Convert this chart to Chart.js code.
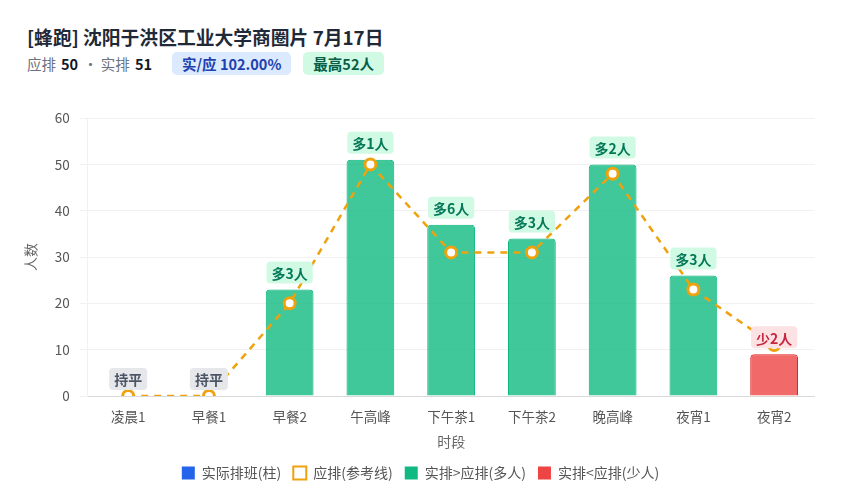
<!DOCTYPE html>
<html lang="zh">
<head>
<meta charset="utf-8">
<title>蜂跑排班</title>
<script src="https://cdn.jsdelivr.net/npm/chart.js"></script>
<style>
  html, body { margin: 0; padding: 0; background: #fff; }
  body { width: 849px; height: 500px; position: relative; overflow: hidden;
         font-family: "Noto Sans CJK SC", "Noto Sans", sans-serif; }
  #title { position: absolute; left: 27px; top: 23px; font-size: 18.8px; font-weight: 700; color: #1f2937; }
  #sub { position: absolute; left: 27px; top: 52px; font-size: 14.5px; color: #6b7280; display: flex; align-items: center; }
  #sub b { color: #111827; margin: 0 5px; }
  .badge { display: inline-block; border-radius: 5px; padding: 1px 10px; font-weight: 700; margin-left: 12px; line-height: 21px; }
  .blue { background: #dbeafe; color: #1e40af; margin-left: 15px; }
  .green { background: #d1fae5; color: #065f46; }
  #wrap { position: absolute; left: 18px; top: 100px; width: 805px; height: 390px; }
</style>
</head>
<body>
<div id="title">[蜂跑] 沈阳于洪区工业大学商圈片 7月17日</div>
<div id="sub">应排<b>50</b>· 实排<b>51</b><span class="badge blue">实/应 102.00%</span><span class="badge green">最高52人</span></div>
<div id="wrap"><canvas id="c"></canvas></div>
<script>
const periods = ["凌晨1", "早餐1", "早餐2", "午高峰", "下午茶1", "下午茶2", "晚高峰", "夜宵1", "夜宵2"];
const actual = [0, 0, 23, 51, 37, 34, 50, 26, 9];
const planned = [0, 0, 20, 50, 31, 31, 48, 23, 11];
const yTicks = [0, 10, 20, 30, 40, 50, 60];

const GREEN = "rgba(16,185,129,0.8)";
const RED = "rgba(239,68,68,0.8)";
const ORANGE = "#eea20e";
const FONT = "'Noto Sans CJK SC', 'Noto Sans', sans-serif";

function diffLabel(i) {
    const d = actual[i] - planned[i];
    if (d > 0) return { text: "多" + d + "人", bg: "#d1fae5", fg: "#047857" };
    if (d < 0) return { text: "少" + (-d) + "人", bg: "#fde2e4", fg: "#c8253f" };
    return { text: "持平", bg: "#e5e7eb", fg: "#4b5563" };
}

// badge above each bar
const diffPlugin = {
    id: "diffLabels",
    afterDatasetsDraw(chart) {
        const ctx = chart.ctx;
        const y = chart.scales.y;
        const barMeta = chart.getDatasetMeta(0);
        ctx.save();
        ctx.font = "bold 14px " + FONT;
        ctx.textAlign = "center";
        ctx.textBaseline = "middle";
        periods.forEach((p, i) => {
            const lab = diffLabel(i);
            const x = barMeta.data[i].x;
            const cy = y.getPixelForValue(actual[i]) - 17;
            const w = ctx.measureText(lab.text).width + 10;
            const h = 22;
            ctx.fillStyle = lab.bg;
            ctx.beginPath();
            ctx.roundRect(x - w / 2, cy - h / 2, w, h, 4);
            ctx.fill();
            ctx.fillStyle = lab.fg;
            ctx.fillText(lab.text, x, cy + 1);
        });
        ctx.restore();
    }
};

new Chart(document.getElementById("c"), {
    data: {
        labels: periods,
        datasets: [
            {
                type: "bar",
                label: "实际排班(柱)",
                data: actual,
                backgroundColor: actual.map((v, i) => v < planned[i] ? RED : GREEN),
                borderColor: actual.map((v, i) => v < planned[i] ? "#dc2626" : "#10b981"),
                borderWidth: 1,
                borderRadius: 4,
                borderSkipped: "bottom",
                categoryPercentage: 0.8,
                barPercentage: 0.74,
                order: 2
            },
            {
                type: "line",
                label: "应排(参考线)",
                data: planned,
                borderColor: ORANGE,
                borderWidth: 2.5,
                borderDash: [7, 6],
                backgroundColor: "#fff",
                pointBackgroundColor: "#fff",
                pointBorderColor: ORANGE,
                pointBorderWidth: 3,
                pointRadius: 5.5,
                tension: 0,
                fill: false,
                order: 1
            }
        ]
    },
    options: {
        responsive: true,
        maintainAspectRatio: false,
        animation: false,
        layout: { padding: { top: 8, right: 0, bottom: 0, left: 0 } },
        scales: {
            x: {
                grid: { display: false },
                border: { color: "#d9d9d9" },
                ticks: { color: "#555", font: { size: 13.5, family: FONT }, padding: 5 },
                title: { display: true, text: "时段", color: "#666", font: { size: 14, family: FONT }, padding: { top: 3 } }
            },
            y: {
                min: 0,
                max: 60,
                afterBuildTicks(axis) { axis.ticks = yTicks.map(v => ({ value: v })); },
                grid: { color: "#f1f1f1" },
                border: { color: "#f1f1f1" },
                ticks: { color: "#555", font: { size: 13.5, family: FONT }, padding: 10 },
                title: { display: true, text: "人数", color: "#666", font: { size: 14, family: FONT }, padding: { bottom: 6 } }
            }
        },
        plugins: {
            tooltip: { enabled: false },
            legend: {
                position: "bottom",
                labels: {
                    color: "#555",
                    font: { size: 14, family: FONT },
                    boxWidth: 13,
                    boxHeight: 13,
                    useBorderRadius: true,
                    borderRadius: 2,
                    padding: 12,
                    generateLabels() {
                        return [
                            { text: "实际排班(柱)", fillStyle: "#2563eb", strokeStyle: "#2563eb", lineWidth: 0, fontColor: "#555" },
                            { text: "应排(参考线)", fillStyle: "#fff", strokeStyle: ORANGE, lineWidth: 2, fontColor: "#555" },
                            { text: "实排>应排(多人)", fillStyle: "#10b981", strokeStyle: "#10b981", lineWidth: 0, fontColor: "#555" },
                            { text: "实排<应排(少人)", fillStyle: "#ef4444", strokeStyle: "#ef4444", lineWidth: 0, fontColor: "#555" }
                        ];
                    }
                }
            }
        }
    },
    plugins: [diffPlugin]
});
</script>
</body>
</html>
